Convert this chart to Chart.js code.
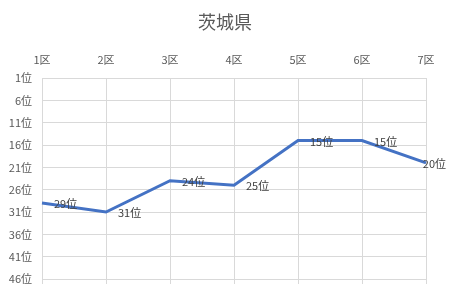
<!DOCTYPE html>
<html>
<head>
<meta charset="utf-8">
<script src="https://cdn.jsdelivr.net/npm/chart.js@4"></script>
<style>
  html, body { margin: 0; padding: 0; background: #fff; }
  #wrap { width: 450px; height: 301px; }
</style>
</head>
<body>
<div id="wrap"><canvas id="rankChart"></canvas></div>
<script>
const districts = ['1区', '2区', '3区', '4区', '5区', '6区', '7区'];
const ranks = [29, 31, 24, 25, 15, 15, 20];
const rankTicks = [1, 6, 11, 16, 21, 26, 31, 36, 41, 46];
const chartTitle = '茨城県';

const font = '"Noto Sans CJK JP", "Noto Sans", sans-serif';

// title centred on whole canvas + data labels (no datalabels lib here)
const extras = {
    id: 'extras',
    beforeDatasetsDraw(chart) {
        // little stubs under the bottom gridline, like excel does
        const ctx = chart.ctx;
        const xs = chart.scales.x;
        const bottom = chart.chartArea.bottom;
        ctx.save();
        ctx.strokeStyle = '#d9d9d9';
        ctx.lineWidth = 1;
        districts.forEach((d, i) => {
            const x = Math.round(xs.getPixelForValue(i)) + 0.5;
            ctx.beginPath();
            ctx.moveTo(x, bottom);
            ctx.lineTo(x, bottom + 5);
            ctx.stroke();
        });
        ctx.restore();
    },
    afterDraw(chart) {
        const ctx = chart.ctx;
        ctx.save();
        ctx.font = '18px ' + font;
        ctx.fillStyle = '#595959';
        ctx.textAlign = 'center';
        ctx.textBaseline = 'middle';
        ctx.fillText(chartTitle, chart.width / 2, 22);
        ctx.restore();
    },
    afterDatasetsDraw(chart) {
        const ctx = chart.ctx;
        const meta = chart.getDatasetMeta(0);
        ctx.save();
        ctx.font = '11px ' + font;
        ctx.fillStyle = '#404040';
        ctx.textAlign = 'left';
        ctx.textBaseline = 'middle';
        meta.data.forEach((pt, i) => {
            const txt = ranks[i] + '位';
            const w = ctx.measureText(txt).width;
            const x = Math.min(pt.x + 12, chart.width - w - 4);
            ctx.fillText(txt, x, pt.y + 1);
        });
        ctx.restore();
    }
};

const ctx = document.getElementById('rankChart');
new Chart(ctx, {
    type: 'line',
    data: {
        labels: districts,
        datasets: [{
            label: '順位',
            data: ranks,
            borderColor: '#4472C4',
            borderWidth: 3,
            pointRadius: 0,
            tension: 0,
            fill: false
        }]
    },
    options: {
        responsive: true,
        maintainAspectRatio: false,
        animation: false,
        layout: { padding: { left: 0, right: 24, top: 41.6, bottom: 22 } },
        plugins: {
            legend: { display: false },
            tooltip: { enabled: false },
            title: { display: false }
        },
        scales: {
            x: {
                position: 'top',
                offset: false,
                grid: { color: '#d9d9d9', drawTicks: false },
                border: { display: false },
                ticks: {
                    color: '#595959',
                    font: { family: font, size: 11 },
                    padding: 12,
                    maxRotation: 0
                },
                afterFit(scale) { scale.height = 36.4; }
            },
            y: {
                reverse: true,
                min: 1,
                max: 46,
                grid: { color: '#d9d9d9', drawTicks: false },
                border: { display: false },
                afterBuildTicks(scale) {
                    scale.ticks = rankTicks.map(v => ({ value: v }));
                },
                ticks: {
                    color: '#595959',
                    font: { family: font, size: 11 },
                    padding: 10,
                    callback: v => v + '位'
                },
                afterFit(scale) { scale.width = 42; }
            }
        }
    },
    plugins: [extras]
});
</script>
</body>
</html>
